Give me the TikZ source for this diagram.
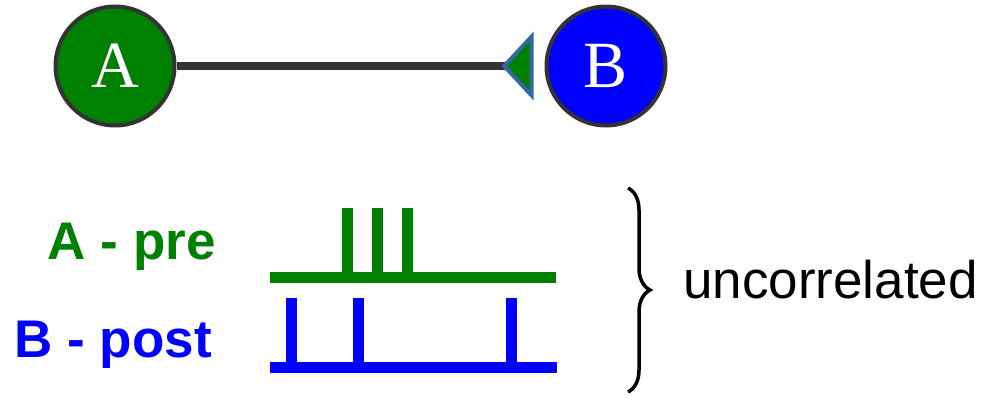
\documentclass[tikz,border=0pt]{standalone}
\usepackage{fontspec}
\setmainfont{Liberation Serif}
\setsansfont{Liberation Sans}
\usetikzlibrary{arrows.meta,decorations.pathreplacing}

\definecolor{pregreen}{RGB}{0,128,0}
\definecolor{postblue}{RGB}{0,0,255}
\definecolor{edgegray}{RGB}{51,51,51}
\definecolor{tipblue}{RGB}{52,101,164}

\begin{document}
\begin{tikzpicture}[x=1pt,y=-1pt]

        \useasboundingbox (0,0) rectangle (981,397);

        \begin{scope}[every node/.style={circle,draw=edgegray,line width=4pt,minimum size=119pt,inner sep=0pt,text=white,font=\fontsize{66}{66}\selectfont}]
          \node[fill=pregreen] (A) at (115,66) {A};
          \node[fill=postblue] (B) at (606,66) {B};
        \end{scope}

        \path (A) edge[draw=edgegray, line width=8pt, shorten >=11pt,
          -{Triangle[reversed,length=32pt,width=68pt,color=tipblue,fill=pregreen,line width=4pt]}] (B);

        \begin{scope}[every node/.style={inner sep=0pt, font=\sffamily\bfseries\fontsize{53}{53}\selectfont}]
          \node[pregreen, anchor=base east] (pre)  at (216,259) {A - pre};
          \node[postblue, anchor=base east] (post) at (212,357) {B - post};
        \end{scope}

        \begin{scope}[pregreen, line width=11pt]
          \draw (270,277.5) -- (556,277.5);
          \foreach \x in {347,377,407}
            \draw (\x,208) -- (\x,277);
        \end{scope}

        \begin{scope}[postblue, line width=11pt]
          \draw (270,367.5) -- (557,367.5);
          \foreach \x in {291,358,511}
            \draw (\x,298) -- (\x,367);
        \end{scope}

        \coordinate (brtop) at (628,188);
        \coordinate (brbot) at (628,392);
        \draw[line width=3.5pt, decorate, decoration={brace, amplitude=22pt}] (brtop) -- (brbot);

        \node[anchor=base west, inner sep=0pt, font=\sffamily\fontsize{53}{53}\selectfont] (uncor) at (683,298) {uncorrelated};

      \end{tikzpicture}
\end{document}
